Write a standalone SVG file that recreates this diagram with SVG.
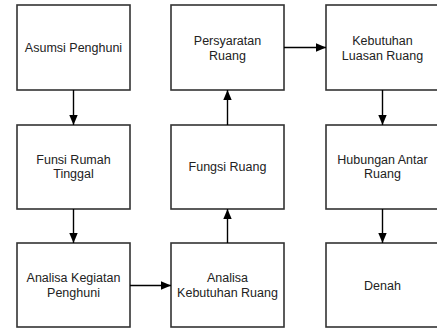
<svg xmlns="http://www.w3.org/2000/svg" width="437" height="329" viewBox="0 0 437 329">
<style>
.box{fill:#fff;stroke:#333;stroke-width:1.6}
.lbl{font-family:"Liberation Sans",Arial,sans-serif;font-size:12.5px;fill:#222;text-anchor:middle}
.conn{stroke:#000;stroke-width:1.4;fill:none}
</style>
<defs>
<marker id="ah" markerUnits="userSpaceOnUse" markerWidth="12" markerHeight="10" refX="10" refY="5" orient="auto">
<path d="M0,0.8 L10,5 L0,9.2 Z" fill="#000"/>
</marker>
</defs>
<rect width="437" height="329" fill="#fff"/>
<g id="asumsi"><rect class="box" x="17" y="5" width="113" height="85"/><text class="lbl" x="73.5" y="51.5">Asumsi Penghuni</text></g>
<g id="persyaratan"><rect class="box" x="171" y="5" width="113" height="85"/><text class="lbl" x="227.5" y="45">Persyaratan</text><text class="lbl" x="227.5" y="60">Ruang</text></g>
<g id="kebutuhan-luasan"><rect class="box" x="326" y="5" width="113" height="85"/><text class="lbl" x="382.5" y="45">Kebutuhan</text><text class="lbl" x="382.5" y="60">Luasan Ruang</text></g>
<g id="funsi"><rect class="box" x="17" y="125" width="113" height="84"/><text class="lbl" x="73.5" y="163.5">Funsi Rumah</text><text class="lbl" x="73.5" y="178">Tinggal</text></g>
<g id="fungsi"><rect class="box" x="171" y="125" width="113" height="84"/><text class="lbl" x="227.5" y="171">Fungsi Ruang</text></g>
<g id="hubungan"><rect class="box" x="326" y="125" width="113" height="84"/><text class="lbl" x="382.5" y="163.5">Hubungan Antar</text><text class="lbl" x="382.5" y="178">Ruang</text></g>
<g id="analisa-kegiatan"><rect class="box" x="17" y="243" width="113" height="84"/><text class="lbl" x="73.5" y="282">Analisa Kegiatan</text><text class="lbl" x="73.5" y="297">Penghuni</text></g>
<g id="analisa-kebutuhan"><rect class="box" x="171" y="243" width="113" height="84"/><text class="lbl" x="227.5" y="282">Analisa</text><text class="lbl" x="227.5" y="297">Kebutuhan Ruang</text></g>
<g id="denah"><rect class="box" x="326" y="243" width="113" height="84"/><text class="lbl" x="382.5" y="289.5">Denah</text></g>
<g id="connectors">
<line class="conn" x1="73.5" y1="90" x2="73.5" y2="125" marker-end="url(#ah)"/>
<line class="conn" x1="73.5" y1="209" x2="73.5" y2="243" marker-end="url(#ah)"/>
<line class="conn" x1="130" y1="285.5" x2="171" y2="285.5" marker-end="url(#ah)"/>
<line class="conn" x1="227.5" y1="243" x2="227.5" y2="209" marker-end="url(#ah)"/>
<line class="conn" x1="227.5" y1="125" x2="227.5" y2="90" marker-end="url(#ah)"/>
<line class="conn" x1="284" y1="47.5" x2="326" y2="47.5" marker-end="url(#ah)"/>
<line class="conn" x1="382.5" y1="90" x2="382.5" y2="125" marker-end="url(#ah)"/>
<line class="conn" x1="382.5" y1="209" x2="382.5" y2="243" marker-end="url(#ah)"/>
</g>
</svg>
